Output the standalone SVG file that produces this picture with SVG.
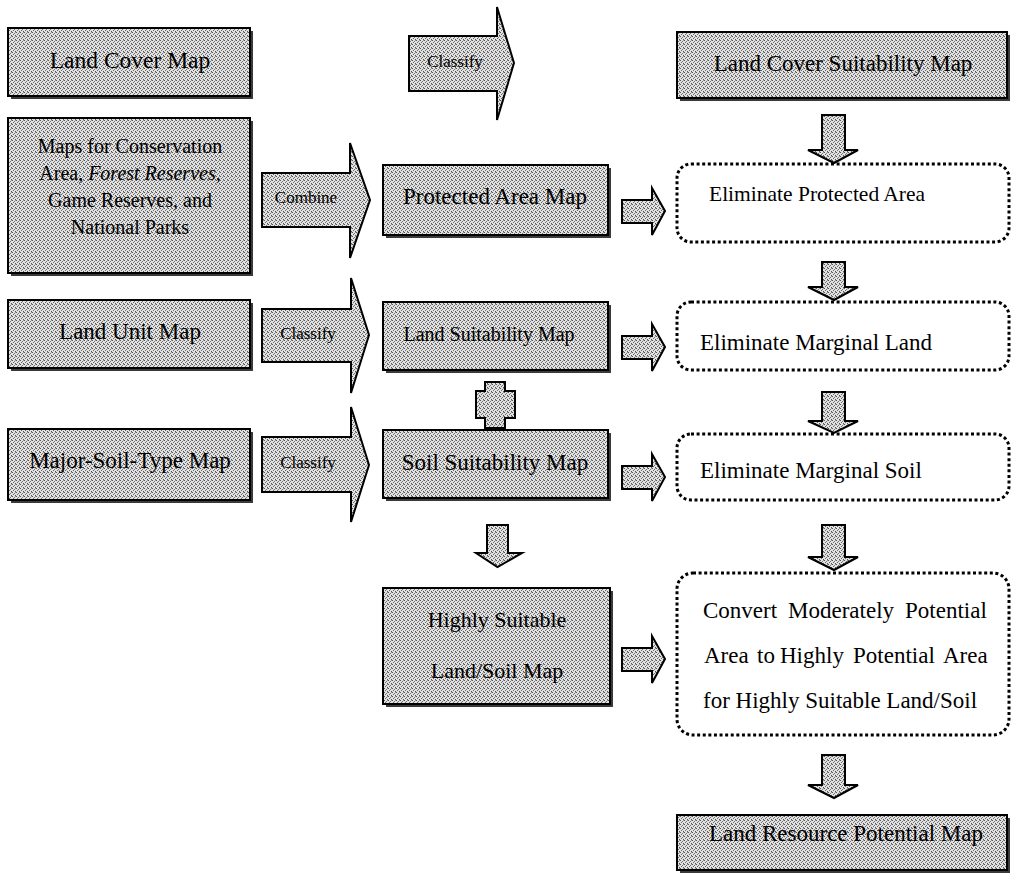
<svg xmlns="http://www.w3.org/2000/svg" width="1012" height="873" viewBox="0 0 1012 873">
<defs>
<pattern id="dither" width="4" height="4" patternUnits="userSpaceOnUse">
<rect width="4" height="4" fill="#e2e2e2"/>
<rect x="0" y="0" width="1" height="1" fill="#555"/>
<rect x="2" y="1" width="1" height="1" fill="#777"/>
<rect x="1" y="2" width="1" height="1" fill="#666"/>
<rect x="3" y="3" width="1" height="1" fill="#555"/>
<rect x="3" y="0" width="1" height="1" fill="#999"/>
</pattern>
</defs>
<style>
.box{fill:url(#dither);stroke:#000;stroke-width:2}
.shadow{fill:#3a3a3a}
.dot{fill:#fff;stroke:#000;stroke-width:3;stroke-dasharray:3 2.6}
.arr{fill:url(#dither);stroke:#000;stroke-width:2;stroke-linejoin:miter}
text{font-family:"Liberation Serif","Times New Roman",serif;fill:#000}
.c{text-anchor:middle}
</style>
<rect width="1012" height="873" fill="#fff"/>

<g id="connectors">
<g id="arrow-classify-top">
<polygon class="arr" points="409,36 497,36 497,7 514,63 497,120 497,91 409,91"/>
<text class="c" x="455" y="67" font-size="17">Classify</text>
</g>
<g id="arrow-combine">
<polygon class="arr" points="262,173 350,173 350,143 370,200 350,258 350,227 262,227"/>
<text class="c" x="306" y="203" font-size="17">Combine</text>
</g>
<g id="arrow-classify-land">
<polygon class="arr" points="262,309 351,309 351,278 369,335 351,393 351,362 262,362"/>
<text class="c" x="308" y="339" font-size="17">Classify</text>
</g>
<g id="arrow-classify-soil">
<polygon class="arr" points="262,437 351,437 351,407 369,465 351,522 351,492 262,492"/>
<text class="c" x="308" y="468" font-size="17">Classify</text>
</g>
<polygon id="arrow-cross" class="arr" points="485,382 505,382 505,391 515,391 515,418 505,418 505,428 485,428 485,418 476,418 476,391 485,391"/>
<polygon id="arrow-soil-highly" class="arr" points="487,525 508,525 508,553 522,553 497.5,567 476,553 487,553"/>
<polygon id="arrow-r1" class="arr" points="622,200 652,200 652,188 665,211 652,235 652,223 622,223"/>
<polygon id="arrow-r2" class="arr" points="622,336 652,336 652,324 665,347 652,371 652,359 622,359"/>
<polygon id="arrow-r3" class="arr" points="622,466 652,466 652,454 665,477 652,501 652,489 622,489"/>
<polygon id="arrow-r4" class="arr" points="622,648 652,648 652,636 665,659 652,683 652,671 622,671"/>
<polygon id="arrow-d1" class="arr" points="822,115 845,115 845,150 858,150 834,163 808,150 822,150"/>
<polygon id="arrow-d2" class="arr" points="822,262 845,262 845,287 858,287 834,300 808,287 822,287"/>
<polygon id="arrow-d3" class="arr" points="822,392 845,392 845,421 858,421 834,433 808,421 822,421"/>
<polygon id="arrow-d4" class="arr" points="822,525 845,525 845,557 858,557 834,570 808,557 822,557"/>
<polygon id="arrow-d5" class="arr" points="822,755 845,755 845,785 858,785 834,798 808,785 822,785"/>
</g>

<g id="land-cover-map">
<rect class="shadow" x="11" y="31" width="242" height="68"/>
<rect class="box" x="8" y="28" width="242" height="68"/>
<text class="c" x="130" y="68" font-size="23.5">Land Cover Map</text>
</g>
<g id="conservation-maps">
<rect class="shadow" x="11" y="121" width="242" height="155"/>
<rect class="box" x="8" y="118" width="242" height="155"/>
<text class="c" x="130" y="153" font-size="20">Maps for Conservation</text>
<text class="c" x="130" y="180" font-size="20">Area, <tspan font-style="italic">Forest Reserves,</tspan></text>
<text class="c" x="130" y="207" font-size="20">Game Reserves, and</text>
<text class="c" x="130" y="234" font-size="20">National Parks</text>
</g>
<g id="land-unit-map">
<rect class="shadow" x="11" y="303" width="242" height="68"/>
<rect class="box" x="8" y="300" width="242" height="68"/>
<text class="c" x="130" y="339" font-size="23">Land Unit Map</text>
</g>
<g id="major-soil-type-map">
<rect class="shadow" x="11" y="432" width="242" height="71"/>
<rect class="box" x="8" y="429" width="242" height="71"/>
<text class="c" x="130" y="468" font-size="23">Major-Soil-Type Map</text>
</g>

<g id="protected-area-map">
<rect class="shadow" x="386" y="168" width="225" height="70"/>
<rect class="box" x="383" y="165" width="225" height="70"/>
<text class="c" x="495" y="204" font-size="23">Protected Area Map</text>
</g>
<g id="land-suitability-map">
<rect class="shadow" x="386" y="305" width="225" height="68"/>
<rect class="box" x="383" y="302" width="225" height="68"/>
<text class="c" x="489" y="341" font-size="20">Land Suitability Map</text>
</g>
<g id="soil-suitability-map">
<rect class="shadow" x="386" y="433" width="225" height="68"/>
<rect class="box" x="383" y="430" width="225" height="68"/>
<text class="c" x="495" y="470" font-size="23">Soil Suitability Map</text>
</g>
<g id="highly-suitable-map">
<rect class="shadow" x="386" y="591" width="227" height="116"/>
<rect class="box" x="383" y="588" width="227" height="116"/>
<text class="c" x="497" y="627" font-size="22">Highly Suitable</text>
<text class="c" x="497" y="678" font-size="22">Land/Soil Map</text>
</g>

<g id="land-cover-suitability-map">
<rect class="shadow" x="680" y="35" width="330" height="66"/>
<rect class="box" x="677" y="32" width="330" height="66"/>
<text class="c" x="843" y="71" font-size="23">Land Cover Suitability Map</text>
</g>
<g id="eliminate-protected-area">
<rect class="dot" x="677" y="164" width="332" height="78" rx="14"/>
<text x="709" y="201" font-size="21.5">Eliminate Protected Area</text>
</g>
<g id="eliminate-marginal-land">
<rect class="dot" x="677" y="302" width="332" height="68" rx="14"/>
<text x="700" y="350" font-size="23">Eliminate Marginal Land</text>
</g>
<g id="eliminate-marginal-soil">
<rect class="dot" x="677" y="434" width="332" height="66" rx="14"/>
<text x="700" y="478" font-size="23">Eliminate Marginal Soil</text>
</g>
<g id="convert-area">
<rect class="dot" x="677" y="573" width="332" height="162" rx="16"/>
<text font-size="23" y="618"><tspan x="703">Convert</tspan><tspan x="788">Moderately</tspan><tspan x="905">Potential</tspan></text>
<text font-size="23" y="663"><tspan x="704">Area</tspan><tspan x="757">to</tspan><tspan x="780">Highly</tspan><tspan x="853">Potential</tspan><tspan x="943">Area</tspan></text>
<text font-size="23" y="708" x="703">for Highly Suitable Land/Soil</text>
</g>
<g id="land-resource-potential-map">
<rect class="shadow" x="680" y="818" width="330" height="55"/>
<rect class="box" x="677" y="815" width="330" height="55"/>
<text class="c" x="846" y="841" font-size="23">Land Resource Potential Map</text>
</g>
</svg>
